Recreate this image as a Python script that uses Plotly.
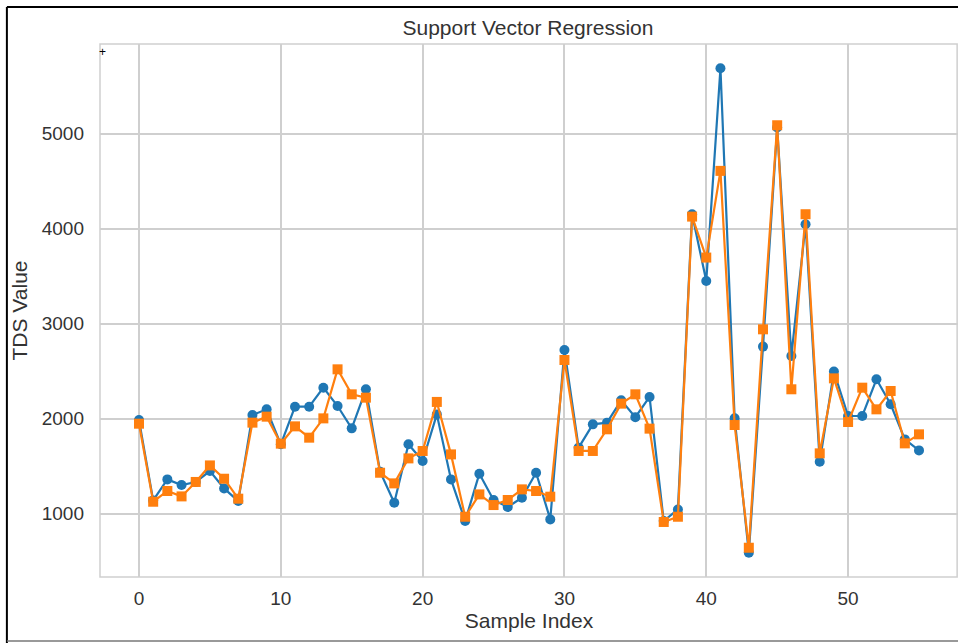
import plotly.graph_objects as go

# Sample indices and TDS values: measured vs. SVR prediction
sample_index = list(range(56))

actual_tds = [
    1985, 1140, 1361, 1302, 1334, 1449, 1266, 1133, 2039, 2098,
    1730, 2126, 2126, 2326, 2133, 1898, 2309, 1442, 1116, 1730,
    1555, 2045, 1361, 923, 1421, 1144, 1070, 1168, 1431, 940,
    2723, 1695, 1940, 1958, 2193, 2016, 2228, 923, 1045, 4151,
    3449, 5687, 2003, 589, 2758, 5063, 2660, 4045, 1547, 2495,
    2028, 2028, 2414, 2151, 1782, 1666,
]

predicted_tds = [
    1947, 1126, 1239, 1182, 1334, 1508, 1368, 1158, 1958, 2021,
    1737, 1919, 1800, 2003, 2519, 2256, 2221, 1431, 1319, 1582,
    1660, 2176, 1624, 968, 1203, 1091, 1144, 1256, 1239, 1179,
    2617, 1660, 1660, 1888, 2158, 2256, 1895, 913, 968, 4126,
    3695, 4607, 1933, 642, 2940, 5087, 2309, 4151, 1635, 2424,
    1965, 2326, 2098, 2291, 1740, 1835,
]

x_ticks = [0, 10, 20, 30, 40, 50]
y_ticks = [1000, 2000, 3000, 4000, 5000]

BLUE = "#1f77b4"
ORANGE = "#ff7f0e"
GRID = "#cfcfcf"
TEXT = "#333333"
FONT = "Liberation Sans, Arial, sans-serif"

fig = go.Figure()

fig.add_trace(go.Scatter(
    x=sample_index, y=actual_tds, mode="lines+markers",
    line=dict(color=BLUE, width=2.2),
    marker=dict(symbol="circle", size=10, color=BLUE),
    name="Actual", showlegend=False,
))

fig.add_trace(go.Scatter(
    x=sample_index, y=predicted_tds, mode="lines+markers",
    line=dict(color=ORANGE, width=2.2),
    marker=dict(symbol="square", size=10, color=ORANGE),
    name="Predicted", showlegend=False,
))

axis_common = dict(
    showgrid=True, gridcolor=GRID, gridwidth=1.5,
    zeroline=False, showline=False,
    ticks="", tickfont=dict(family=FONT, size=19, color=TEXT),
)

fig.update_xaxes(
    range=[-2.75, 57.75], tickvals=x_ticks, ticklabelstandoff=8,
    title=dict(text="Sample Index", font=dict(family=FONT, size=21, color=TEXT), standoff=5),
    **axis_common,
)
fig.update_yaxes(
    range=[334, 5942], tickvals=y_ticks, ticklabelstandoff=15,
    title=dict(text="TDS Value", font=dict(family=FONT, size=21, color=TEXT), standoff=8),
    **axis_common,
)

shapes = [
    # plot-area frame
    dict(type="rect", xref="paper", yref="paper", x0=0, x1=0.999, y0=0, y1=1,
         line=dict(color=GRID, width=1.5), layer="below"),
    # outer frame of the figure
    dict(type="line", xref="paper", yref="paper",
         x0=(7 - 100) / 857, x1=(7 - 100) / 857, y0=(577 - 7) / 533, y1=(577 - 645) / 533,
         line=dict(color="black", width=2)),
    dict(type="line", xref="paper", yref="paper",
         x0=(7 - 100) / 857, x1=(960 - 100) / 857, y0=(577 - 7) / 533, y1=(577 - 7) / 533,
         line=dict(color="black", width=2)),
    dict(type="line", xref="paper", yref="paper",
         x0=(7 - 100) / 857, x1=(960 - 100) / 857, y0=(577 - 641) / 533, y1=(577 - 641) / 533,
         line=dict(color="#777777", width=1.5)),
]

fig.update_layout(
    width=958, height=643,
    margin=dict(l=100, r=0, t=44, b=66),
    paper_bgcolor="white", plot_bgcolor="white",
    title=dict(text="Support Vector Regression", x=528 / 958, xanchor="center",
               y=1 - 28 / 643, yanchor="middle",
               font=dict(family=FONT, size=21, color=TEXT)),
    shapes=shapes,
    annotations=[dict(text="+", x=-2.55, y=5863, xref="x", yref="y", showarrow=False,
                      font=dict(family=FONT, size=12, color="black"))],
)

fig.write_html("out.html")
